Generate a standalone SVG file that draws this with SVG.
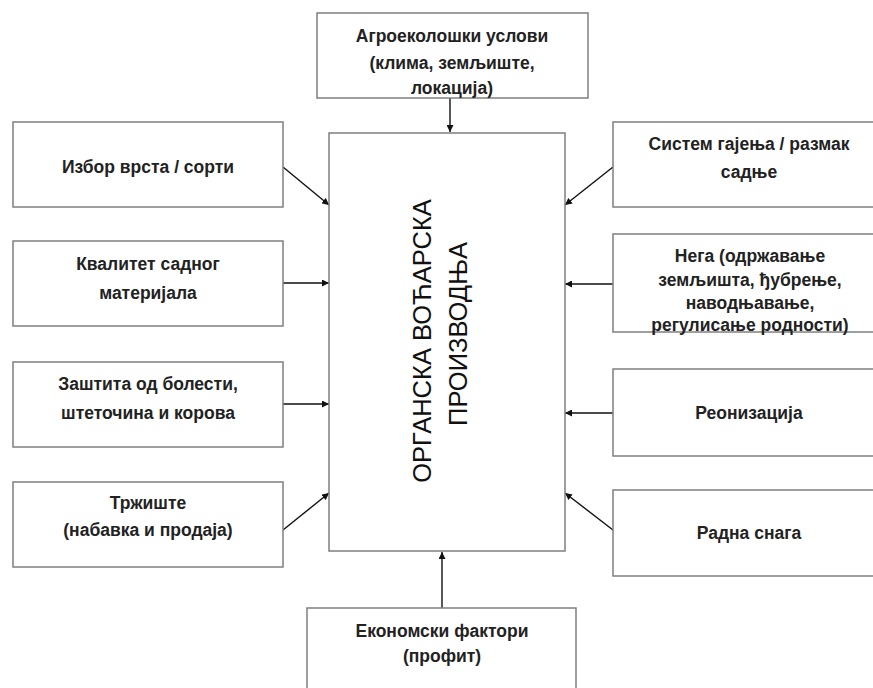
<svg xmlns="http://www.w3.org/2000/svg" width="873" height="688" viewBox="0 0 873 688">
<defs>
<marker id="ah" viewBox="0 0 10 10" refX="10" refY="5" markerWidth="7" markerHeight="7" markerUnits="userSpaceOnUse" orient="auto"><path d="M0,0 L10,5 L0,10 z" fill="#111"/></marker>
<style>
.box{fill:#fff;stroke:#7f7f7f;stroke-width:1.5}
.t{font-family:"Liberation Sans",Arial,sans-serif;font-weight:bold;font-size:17.5px;fill:#222;text-anchor:middle;dominant-baseline:central}
.c{font-family:"Liberation Sans",Arial,sans-serif;font-size:25.5px;fill:#111;text-anchor:middle;dominant-baseline:central}
.ln{stroke:#111;stroke-width:1.4;fill:none;marker-end:url(#ah)}
</style>
</defs>
<rect width="873" height="688" fill="#fff"/>
<g id="connectors">
<line class="ln" x1="450" y1="98" x2="450" y2="132"/>
<line class="ln" x1="283" y1="167" x2="329" y2="205"/>
<line class="ln" x1="283" y1="283" x2="329" y2="283"/>
<line class="ln" x1="283" y1="404" x2="329" y2="404"/>
<line class="ln" x1="283" y1="530" x2="329" y2="493"/>
<line class="ln" x1="613" y1="167" x2="565" y2="205"/>
<line class="ln" x1="613" y1="284" x2="565" y2="284"/>
<line class="ln" x1="613" y1="413" x2="565" y2="413"/>
<line class="ln" x1="613" y1="530" x2="565" y2="493"/>
<line class="ln" x1="442" y1="608" x2="442" y2="552"/>
</g>
<g id="center">
<rect class="box" x="329" y="133" width="236" height="418"/>
<text class="c" transform="translate(422,341) rotate(-90)">ОРГАНСКА ВОЋАРСКА</text>
<text class="c" transform="translate(458,334) rotate(-90)">ПРОИЗВОДЊА</text>
</g>
<g id="top">
<rect class="box" x="317" y="13" width="271" height="85"/>
<text class="t" x="452" y="36">Агроеколошки услови</text>
<text class="t" x="452" y="63">(клима, земљиште,</text>
<text class="t" x="452" y="88">локација)</text>
</g>
<g id="left1">
<rect class="box" x="13" y="122" width="270" height="85"/>
<text class="t" x="148" y="167">Избор врста / сорти</text>
</g>
<g id="left2">
<rect class="box" x="13" y="241" width="270" height="85"/>
<text class="t" x="148" y="264">Квалитет садног</text>
<text class="t" x="148" y="293">материјала</text>
</g>
<g id="left3">
<rect class="box" x="13" y="362" width="270" height="85"/>
<text class="t" x="148" y="384">Заштита од болести,</text>
<text class="t" x="148" y="413">штеточина и корова</text>
</g>
<g id="left4">
<rect class="box" x="13" y="482" width="270" height="85"/>
<text class="t" x="148" y="503">Тржиште</text>
<text class="t" x="148" y="530">(набавка и продаја)</text>
</g>
<g id="right1">
<rect class="box" x="613" y="122" width="270" height="85"/>
<text class="t" x="749" y="144">Систем гајења / размак</text>
<text class="t" x="749" y="172">садње</text>
</g>
<g id="right2">
<rect class="box" x="613" y="234" width="270" height="98"/>
<text class="t" x="750" y="256">Нега (одржавање</text>
<text class="t" x="750" y="280">земљишта, ђубрење,</text>
<text class="t" x="750" y="303">наводњавање,</text>
<text class="t" x="750" y="325">регулисање родности)</text>
</g>
<g id="right3">
<rect class="box" x="613" y="369" width="270" height="87"/>
<text class="t" x="749" y="413">Реонизација</text>
</g>
<g id="right4">
<rect class="box" x="613" y="490" width="270" height="86"/>
<text class="t" x="749" y="533">Радна снага</text>
</g>
<g id="bottom">
<rect class="box" x="307" y="608" width="269" height="90"/>
<text class="t" x="442" y="631">Економски фактори</text>
<text class="t" x="442" y="656">(профит)</text>
</g>
</svg>
